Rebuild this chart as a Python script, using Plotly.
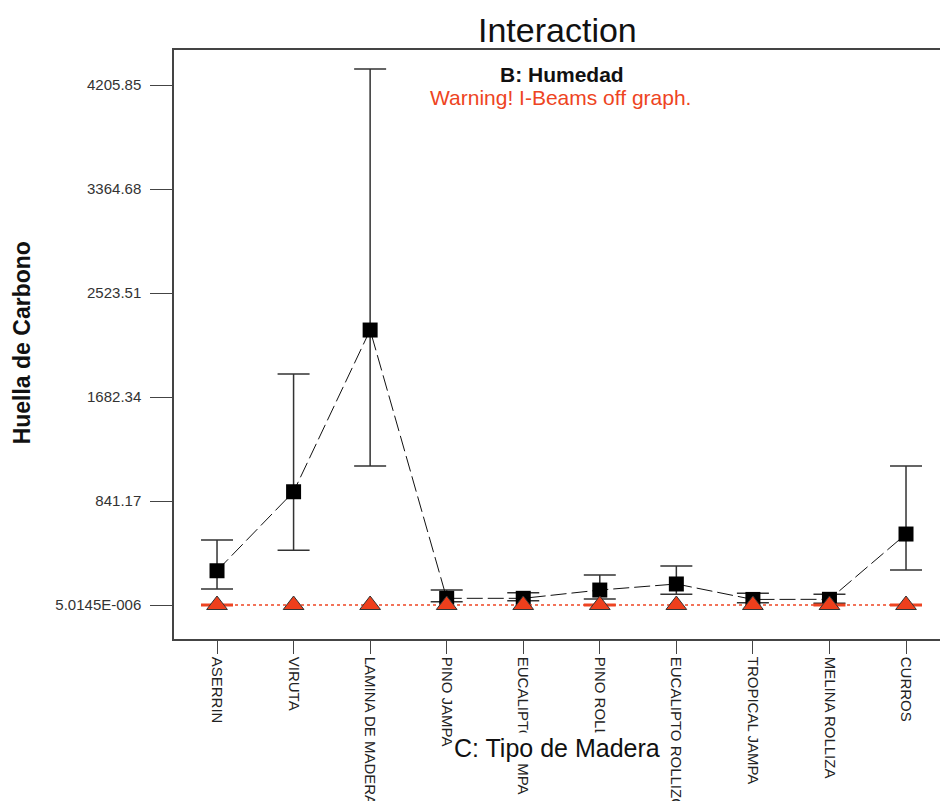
import plotly.graph_objects as go

categories = ["ASERRIN", "VIRUTA", "LAMINA DE MADERA", "PINO JAMPA", "EUCALIPTO JAMPA",
              "PINO ROLLIZO", "EUCALIPTO ROLLIZO", "TROPICAL JAMPA", "MELINA ROLLIZA", "CURROS"]
high_mean = [277, 916, 2224, 54, 54, 121, 170, 45, 46, 574]
high_upper = [526, 1868, 4335, 121, 100, 243, 315, 95, 87, 1124]
high_lower = [129, 442, 1124, 27, 35, 49, 87, 19, 14, 283]
low_mean = [5.0145e-06] * 10
low_cap_cats = ["ASERRIN", "PINO ROLLIZO", "MELINA ROLLIZA", "CURROS"]
low_cap_vals = [5.0145e-06, 5.0145e-06, 5.0145e-06, 5.0145e-06]
low_cap_err = [3, 3, 3, 3]
tick_vals = [5.0145e-06, 841.17, 1682.34, 2523.51, 3364.68, 4205.85]
tick_text = ["5.0145E-006", "841.17", "1682.34", "2523.51", "3364.68", "4205.85"]

FONT = "Liberation Sans, Arial, sans-serif"
RED = "#ee4422"

fig = go.Figure()

fig.add_trace(go.Scatter(
    x=categories, y=high_mean, mode="lines+markers",
    line=dict(color="#111111", width=1, dash="16px,5px"),
    marker=dict(symbol="square", size=15, color="black", line=dict(width=0)),
    error_y=dict(type="data", symmetric=False,
                 array=[u - m for u, m in zip(high_upper, high_mean)],
                 arrayminus=[m - l for m, l in zip(high_mean, high_lower)],
                 color="#333333", thickness=1.5, width=16),
    showlegend=False,
))

fig.add_trace(go.Scatter(
    x=low_cap_cats, y=low_cap_vals, mode="markers",
    marker=dict(size=1, color=RED, opacity=0),
    error_y=dict(type="data", array=low_cap_err, color=RED, thickness=2.5, width=16),
    showlegend=False,
))

fig.add_trace(go.Scatter(
    x=categories, y=low_mean, mode="lines+markers",
    line=dict(color=RED, width=1.5, dash="3px,3px"),
    marker=dict(symbol="triangle-up", size=18, color="#ee3f1c",
                line=dict(color="#333333", width=1)),
    showlegend=False,
))

fig.update_layout(
    width=940, height=801,
    margin=dict(l=174, r=0, t=50, b=162, autoexpand=False),
    paper_bgcolor="white", plot_bgcolor="white",
    font=dict(family=FONT, color="#222222"),
    xaxis=dict(
        type="category", range=[-0.562, 9.444], automargin=False,
        showline=True, linecolor="#444444", linewidth=1.5, mirror=True,
        ticks="outside", ticklen=13, tickcolor="#444444", tickwidth=1,
        tickangle=90, tickfont=dict(size=15, family=FONT, color="#222222"),
        showgrid=False, zeroline=False,
    ),
    yaxis=dict(
        range=[-275, 4489], automargin=False,
        tickvals=tick_vals, ticktext=tick_text,
        showline=True, linecolor="#444444", linewidth=1.5, mirror=False,
        ticks="outside", ticklen=22, tickcolor="#444444", tickwidth=1,
        tickfont=dict(size=15, family=FONT, color="#333333"),
        ticklabelstandoff=6,
        showgrid=False, zeroline=False,
    ),
    annotations=[
        dict(text="Interaction", x=0.5, y=1.034, xref="paper", yref="paper",
             showarrow=False, xanchor="center", yanchor="middle",
             font=dict(size=34, family=FONT, color="#111111")),
        dict(text="<b>B: Humedad</b>", x=0.5065, y=0.9576, xref="paper", yref="paper",
             showarrow=False, xanchor="center", yanchor="middle",
             font=dict(size=21, family=FONT, color="#111111")),
        dict(text="Warning! I-Beams off graph.", x=0.504, y=0.920, xref="paper", yref="paper",
             showarrow=False, xanchor="center", yanchor="middle",
             font=dict(size=21, family=FONT, color=RED)),
        dict(text="<b>Huella de Carbono</b>", x=-0.198, y=0.5025, xref="paper", yref="paper",
             showarrow=False, xanchor="center", yanchor="middle", textangle=-90,
             font=dict(size=23, family=FONT, color="#111111")),
        dict(text="C: Tipo de Madera", x=0.5, y=-0.185, xref="paper", yref="paper",
             showarrow=False, xanchor="center", yanchor="middle", bgcolor="white",
             font=dict(size=25, family=FONT, color="#111111")),
    ],
)

fig.write_html("out.html")
